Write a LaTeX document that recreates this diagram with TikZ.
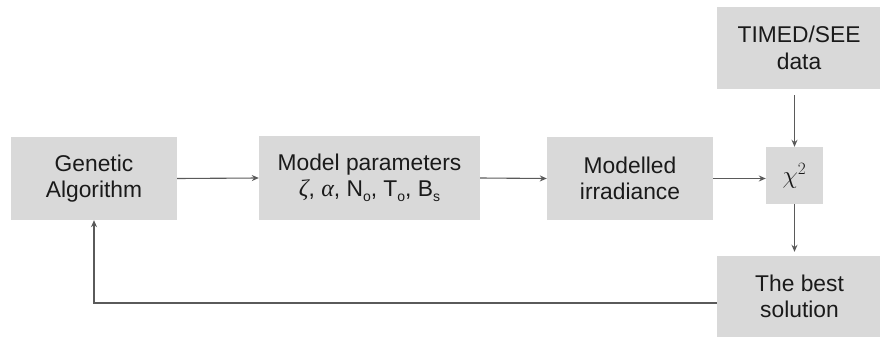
\documentclass[tikz,border=0pt]{standalone}
\usepackage{fontspec}
\setmainfont{Liberation Sans}
\newfontfamily\serifit{Liberation Serif}
\usetikzlibrary{arrows.meta}
\definecolor{boxgray}{HTML}{D9D9D9}
\definecolor{linegray}{HTML}{5A5A5A}
\definecolor{txt}{HTML}{1A1A1A}
\newcommand{\lowsub}[1]{\raisebox{-5pt}{\fontsize{14}{14}\selectfont #1}}
\tikzset{
  blk/.style={fill=boxgray, draw=none, inner sep=0pt, align=center, text=txt,
    font=\fontsize{22.8}{26.5}\selectfont},
  arr/.style={draw=linegray, line width=1.1pt, -{Stealth[length=7pt,width=6pt]}}
}
\begin{document}
\begin{tikzpicture}[x=1pt,y=-1pt]
\useasboundingbox (0,0) rectangle (880,337);
\node[blk, minimum width=166pt, minimum height=83pt] (ga) at (94,178.5) {Genetic\\Algorithm};
\node[blk, minimum width=221pt, minimum height=84pt] (mp) at (369.5,178) {Model parameters\\{\serifit\itshape\fontsize{24}{26.5}\selectfont ζ}, {\serifit\itshape\fontsize{24}{26.5}\selectfont α}, N\lowsub{o}, T\lowsub{o}, B\lowsub{s}};
\node[blk, minimum width=166pt, minimum height=83pt] (mi) at (630,178.5) {Modelled\\irradiance};
\node[blk, minimum width=57pt, minimum height=57pt] (chi) at (794.5,175.5) {\fontsize{27}{30}\selectfont$\chi^{2}$};
\node[blk, minimum width=164pt, minimum height=82pt] (timed) at (799,48) {TIMED/SEE\\data};
\node[blk, minimum width=165pt, minimum height=81pt] (best) at (799.5,296.5) {The best\\solution};
\draw[arr] (ga.east) -- (mp.west);
\draw[arr] (mp.east) -- (mi.west);
\draw[arr] (mi.east) -- (mi.east -| chi.west);
\draw[arr, shorten <=6pt] (chi.north |- timed.south) -- (chi.north);
\draw[arr, shorten >=4pt] (chi.south) -- (chi.south |- best.north);
\draw[arr] ([yshift=-6.5pt]best.west) -| (ga.south);
\end{tikzpicture}
\end{document}
